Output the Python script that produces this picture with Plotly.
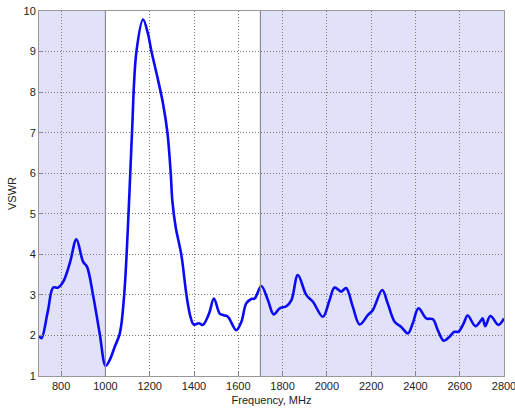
import plotly.graph_objects as go

freq_mhz = [700, 711, 740, 764, 786, 809, 840, 869, 899, 917, 944, 974, 1001, 1019, 1042, 1065,
            1084, 1107, 1120, 1140, 1170, 1192, 1208, 1238, 1260, 1280, 1295, 1302, 1317, 1343,
            1366, 1384, 1399, 1422, 1440, 1468, 1490, 1516, 1534, 1553, 1591, 1614, 1636, 1659,
            1674, 1704, 1734, 1760, 1787, 1817, 1840, 1869, 1907, 1937, 1982, 2012, 2035, 2065,
            2087, 2117, 2148, 2185, 2208, 2250, 2275, 2306, 2336, 2366, 2388, 2414, 2449, 2479,
            2501, 2528, 2554, 2576, 2594, 2618, 2636, 2671, 2697, 2704, 2715, 2739, 2775, 2800]
vswr = [1.99, 1.93, 2.6, 3.18, 3.18, 3.32, 3.8, 4.37, 3.82, 3.69, 3.0, 2.05, 1.25, 1.39, 1.72, 2.05,
        2.95, 5.33, 7.0, 9.0, 9.79, 9.44, 9.0, 8.29, 7.72, 7.0, 5.99, 5.33, 4.68, 3.98,
        3.0, 2.46, 2.27, 2.30, 2.26, 2.54, 2.91, 2.54, 2.50, 2.46, 2.13, 2.34, 2.79, 2.90,
        2.91, 3.22, 2.87, 2.52, 2.67, 2.72, 2.87, 3.49, 3.0, 2.83, 2.46, 2.87, 3.18, 3.08,
        3.17, 2.71, 2.27, 2.50, 2.63, 3.12, 2.79, 2.34, 2.21, 2.05, 2.30, 2.67, 2.42, 2.40,
        2.13, 1.87, 1.97, 2.09, 2.09, 2.30, 2.49, 2.23, 2.38, 2.42, 2.23, 2.48, 2.26, 2.42]

bands = [(700, 1000), (1700, 2800)]
x_ticks = [800, 1000, 1200, 1400, 1600, 1800, 2000, 2200, 2400, 2600, 2800]
y_ticks = [1, 2, 3, 4, 5, 6, 7, 8, 9, 10]

fig = go.Figure()
for x0, x1 in bands:
    fig.add_shape(type="rect", xref="x", yref="y", x0=x0, x1=x1, y0=1, y1=10,
                  fillcolor="#E1E1FA", line=dict(width=0), layer="below")
for xv in [1000, 1700]:
    fig.add_shape(type="line", xref="x", yref="y", x0=xv, x1=xv, y0=1, y1=10,
                  line=dict(color="#8A8A9A", width=1.2), layer="above")

fig.add_trace(go.Scatter(x=freq_mhz, y=vswr, mode="lines",
                         line=dict(color="#0A0AF5", width=2.6, shape="spline", smoothing=1.0),
                         showlegend=False, hoverinfo="x+y"))

font = dict(family="Liberation Sans, Arial, sans-serif", size=11, color="#222222")
grid = dict(showgrid=True, gridcolor="#7A7A7A", griddash="1px,2px", gridwidth=1)
fig.update_layout(
    width=515, height=408,
    margin=dict(l=39, r=11, t=11, b=32),
    paper_bgcolor="white", plot_bgcolor="white",
    font=font,
    xaxis=dict(range=[700, 2800], tickvals=x_ticks, ticks="inside", ticklen=4, tickcolor="#888888",
               showline=True, linecolor="#999999", linewidth=1, mirror=True, automargin=False,
               ticklabeloverflow="allow",
               zeroline=False, title=dict(text="Frequency, MHz", standoff=5, font=font), **grid),
    yaxis=dict(range=[1, 10], tickvals=y_ticks, ticks="inside", ticklen=4, tickcolor="#888888",
               showline=True, linecolor="#999999", linewidth=1, mirror=True, automargin=False,
               ticklabeloverflow="allow",
               zeroline=False, title=dict(text="VSWR", standoff=4, font=font), **grid),
)
fig.write_html("out.html", config={"displayModeBar": False},
               post_script="document.body.style.margin='0';document.body.style.padding='0';"
                           "document.body.style.overflow='hidden';")
